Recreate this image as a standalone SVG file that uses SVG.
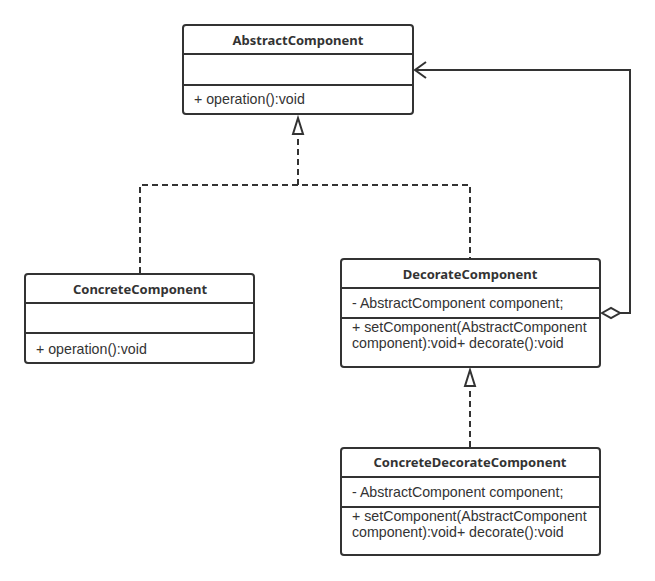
<svg xmlns="http://www.w3.org/2000/svg" width="655" height="581" viewBox="0 0 655 581">
<defs>
<style>
.box{fill:#fff;stroke:#333;stroke-width:2}
.sep{stroke:#333;stroke-width:2}
.t{font-family:"Liberation Sans",Arial,sans-serif;font-size:14.2px;fill:#333}
.h{font-family:"Noto Sans","Open Sans",sans-serif;font-size:13px;font-weight:bold;fill:#333;text-anchor:middle}
.dash{fill:none;stroke:#333;stroke-width:2;stroke-dasharray:6,4}
.solid{fill:none;stroke:#333;stroke-width:2}
</style>
</defs>
<g id="connectors">
<path class="dash" d="M140,273 V185 H470 V258"/>
<path class="dash" d="M298,185 V134"/>
<path d="M298,118 L303,134 L293,134 Z" fill="#fff" stroke="#333" stroke-width="2"/>
<path class="dash" d="M470,447 V386"/>
<path d="M470,370 L475,386 L465,386 Z" fill="#fff" stroke="#333" stroke-width="2"/>
<path class="solid" d="M620,313 H630 V70 H415"/>
<path d="M602,313 L611,308 L620,313 L611,318 Z" fill="#fff" stroke="#333" stroke-width="2"/>
<path class="solid" d="M426,62 L415,70 L426,78"/>
</g>
<g id="AbstractComponent">
<rect class="box" x="183" y="25" width="230" height="89" rx="3"/>
<line class="sep" x1="183" y1="54" x2="413" y2="54"/>
<line class="sep" x1="183" y1="85" x2="413" y2="85"/>
<text class="h" x="298" y="45">AbstractComponent</text>
<text class="t" x="194" y="104">+ operation():void</text>
</g>
<g id="ConcreteComponent">
<rect class="box" x="25" y="274" width="229" height="89" rx="3"/>
<line class="sep" x1="25" y1="303" x2="254" y2="303"/>
<line class="sep" x1="25" y1="333" x2="254" y2="333"/>
<text class="h" x="140" y="294">ConcreteComponent</text>
<text class="t" x="36" y="354">+ operation():void</text>
</g>
<g id="DecorateComponent">
<rect class="box" x="341" y="259" width="259" height="108" rx="3"/>
<line class="sep" x1="341" y1="288" x2="600" y2="288"/>
<line class="sep" x1="341" y1="318" x2="600" y2="318"/>
<text class="h" x="470" y="279">DecorateComponent</text>
<text class="t" x="352" y="308">- AbstractComponent component;</text>
<text class="t" x="352" y="332">+ setComponent(AbstractComponent</text>
<text class="t" x="352" y="348">component):void+ decorate():void</text>
</g>
<g id="ConcreteDecorateComponent">
<rect class="box" x="341" y="448" width="259" height="107" rx="3"/>
<line class="sep" x1="341" y1="477" x2="600" y2="477"/>
<line class="sep" x1="341" y1="507" x2="600" y2="507"/>
<text class="h" x="470" y="467">ConcreteDecorateComponent</text>
<text class="t" x="352" y="497">- AbstractComponent component;</text>
<text class="t" x="352" y="521">+ setComponent(AbstractComponent</text>
<text class="t" x="352" y="537">component):void+ decorate():void</text>
</g>
</svg>
